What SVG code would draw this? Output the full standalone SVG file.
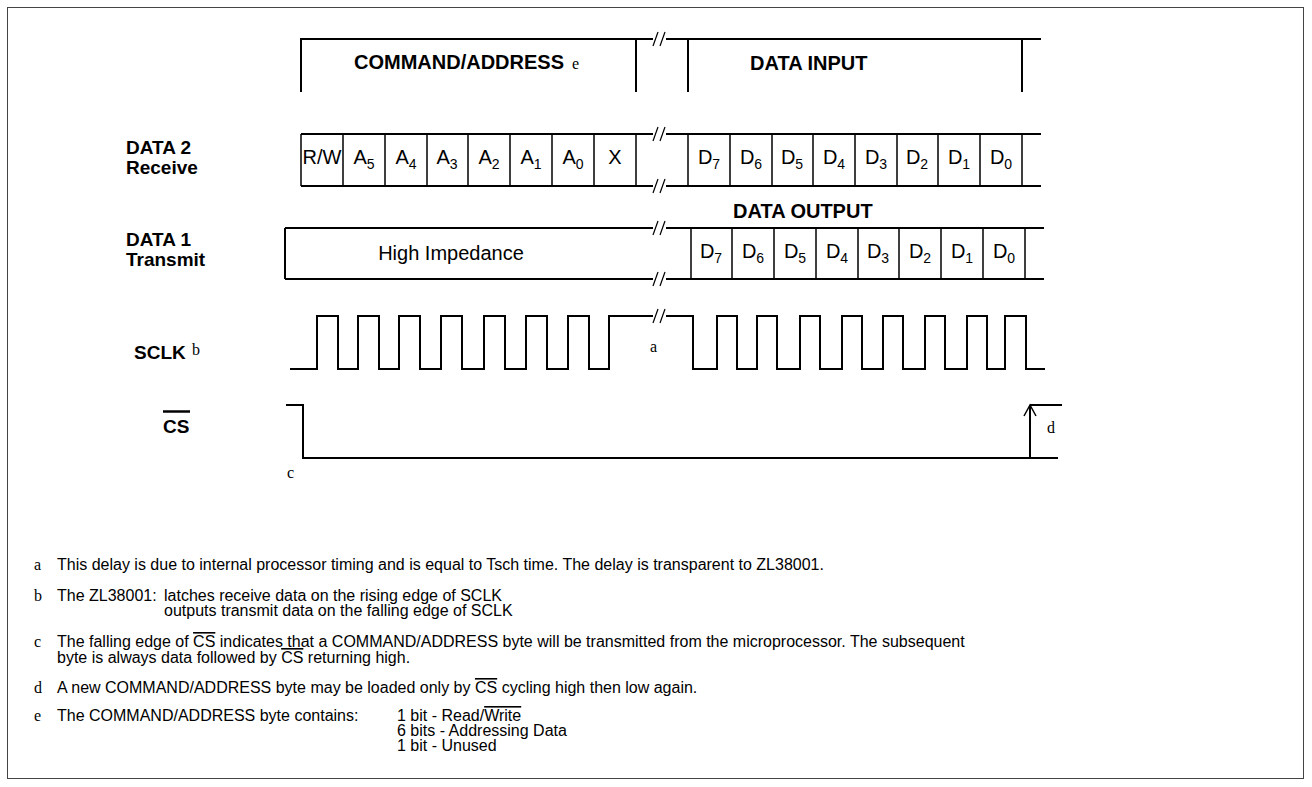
<svg xmlns="http://www.w3.org/2000/svg" width="1312" height="787" viewBox="0 0 1312 787">
<style>
.w{fill:none;stroke:#000;stroke-width:2}
.c{fill:none;stroke:#000;stroke-width:1.5}
.lb{font-family:"Liberation Sans",Arial,sans-serif;font-weight:bold;font-size:20px;fill:#000}
.ll{font-family:"Liberation Sans",Arial,sans-serif;font-weight:bold;font-size:19px;fill:#000}
.lr{font-family:"Liberation Sans",Arial,sans-serif;font-size:20px;fill:#000;text-anchor:middle}
.n{font-family:"Liberation Sans",Arial,sans-serif;font-size:16px;fill:#000}
.s{font-family:"Liberation Serif","Times New Roman",serif;font-size:16px;fill:#000}
.sub{font-size:14px}
.ov{text-decoration:overline}
</style>
<defs>
<g id="brk" fill="none" stroke="#000" stroke-width="1.2">
<line x1="-7" y1="7" x2="-2" y2="-7"/><line x1="0" y1="7" x2="5" y2="-7"/>
</g>
</defs>
<rect x="7.5" y="7.5" width="1296" height="771" fill="#fff" stroke="#444" stroke-width="1"/>

<g id="bracket">
<path class="w" d="M301,92 V39 H653 M666,39 H1041 M636,39 V92 M688,39 V92 M1022,39 V92"/>
<use href="#brk" x="660" y="39"/>
<text class="lb" x="354" y="69">COMMAND/ADDRESS</text>
<text class="s" x="572" y="69">e</text>
<text class="lb" x="750" y="70">DATA INPUT</text>
</g>

<g id="data2">
<text class="ll" x="126" y="154">DATA 2</text>
<text class="ll" x="126" y="174">Receive</text>
<path class="w" d="M301,134 H653 M666,134 H1041 M301,186 H653 M666,186 H1041"/>
<path class="c" d="M301,134V186 M343,134V186 M385,134V186 M427,134V186 M468,134V186 M510,134V186 M552,134V186 M594,134V186 M636,134V186 M688,134V186 M730,134V186 M772,134V186 M813,134V186 M855,134V186 M897,134V186 M938,134V186 M980,134V186 M1022,134V186"/>
<use href="#brk" x="660" y="134"/>
<use href="#brk" x="660" y="186"/>
<text class="lr" x="322" y="164">R/W</text>
<text class="lr" x="364" y="164">A<tspan class="sub" dy="5">5</tspan></text>
<text class="lr" x="406" y="164">A<tspan class="sub" dy="5">4</tspan></text>
<text class="lr" x="447" y="164">A<tspan class="sub" dy="5">3</tspan></text>
<text class="lr" x="489" y="164">A<tspan class="sub" dy="5">2</tspan></text>
<text class="lr" x="531" y="164">A<tspan class="sub" dy="5">1</tspan></text>
<text class="lr" x="573" y="164">A<tspan class="sub" dy="5">0</tspan></text>
<text class="lr" x="615" y="164">X</text>
<text class="lr" x="709" y="164">D<tspan class="sub" dy="5">7</tspan></text>
<text class="lr" x="751" y="164">D<tspan class="sub" dy="5">6</tspan></text>
<text class="lr" x="792" y="164">D<tspan class="sub" dy="5">5</tspan></text>
<text class="lr" x="834" y="164">D<tspan class="sub" dy="5">4</tspan></text>
<text class="lr" x="876" y="164">D<tspan class="sub" dy="5">3</tspan></text>
<text class="lr" x="917" y="164">D<tspan class="sub" dy="5">2</tspan></text>
<text class="lr" x="959" y="164">D<tspan class="sub" dy="5">1</tspan></text>
<text class="lr" x="1001" y="164">D<tspan class="sub" dy="5">0</tspan></text>
</g>

<g id="data1">
<text class="lb" x="733" y="218">DATA OUTPUT</text>
<text class="ll" x="126" y="246">DATA 1</text>
<text class="ll" x="126" y="266">Transmit</text>
<path class="w" d="M285,228 H653 M666,228 H1044 M285,279 H653 M666,279 H1044 M285,228 V279"/>
<path class="c" d="M691,228V279 M732,228V279 M774,228V279 M816,228V279 M858,228V279 M899,228V279 M941,228V279 M983,228V279 M1025,228V279"/>
<use href="#brk" x="660" y="228"/>
<use href="#brk" x="660" y="279"/>
<text class="lr" x="451" y="260">High Impedance</text>
<text class="lr" x="711" y="258">D<tspan class="sub" dy="5">7</tspan></text>
<text class="lr" x="753" y="258">D<tspan class="sub" dy="5">6</tspan></text>
<text class="lr" x="795" y="258">D<tspan class="sub" dy="5">5</tspan></text>
<text class="lr" x="837" y="258">D<tspan class="sub" dy="5">4</tspan></text>
<text class="lr" x="878" y="258">D<tspan class="sub" dy="5">3</tspan></text>
<text class="lr" x="920" y="258">D<tspan class="sub" dy="5">2</tspan></text>
<text class="lr" x="962" y="258">D<tspan class="sub" dy="5">1</tspan></text>
<text class="lr" x="1004" y="258">D<tspan class="sub" dy="5">0</tspan></text>
</g>

<g id="sclk">
<text class="ll" x="134" y="359">SCLK</text>
<text class="s" x="192" y="355">b</text>
<path class="w" d="M290,369 H317 V316 H338 V369 H358 V316 H379 V369 H399 V316 H420 V369 H441 V316 H462 V369 H484 V316 H505 V369 H526 V316 H547 V369 H568 V316 H589 V369 H609 V316 H653"/>
<use href="#brk" x="660" y="316"/>
<path class="w" d="M666,316 H693 V369 H717 V316 H737 V369 H757 V316 H777 V369 H800 V316 H820 V369 H842 V316 H862 V369 H883 V316 H903 V369 H925 V316 H945 V369 H967 V316 H987 V369 H1005 V316 H1026 V369 H1045"/>
<text class="s" x="650" y="352">a</text>
</g>

<g id="cs">
<text class="ll" x="163" y="433">CS</text>
<line x1="163" y1="411.5" x2="190" y2="411.5" stroke="#000" stroke-width="2.5"/>
<path class="w" d="M286,405 H303 V458 H1058 M1030,458 V406 M1030,405 H1062"/>
<path fill="none" stroke="#000" stroke-width="1.5" d="M1024,416 L1030,405 L1036,416"/>
<text class="s" x="287" y="478">c</text>
<text class="s" x="1047" y="433">d</text>
</g>

<g id="notes">
<text class="s" x="34" y="570">a</text>
<text class="n" x="57" y="570">This delay is due to internal processor timing and is equal to Tsch time. The delay is transparent to ZL38001.</text>
<text class="s" x="34" y="601">b</text>
<text class="n" x="57" y="601">The ZL38001:</text>
<text class="n" x="164" y="601">latches receive data on the rising edge of SCLK</text>
<text class="n" x="164" y="616">outputs transmit data on the falling edge of SCLK</text>
<text class="s" x="34" y="647">c</text>
<text class="n" x="57" y="647">The falling edge of <tspan class="ov">CS</tspan> indicates that a COMMAND/ADDRESS byte will be transmitted from the microprocessor. The subsequent</text>
<text class="n" x="57" y="663">byte is always data followed by <tspan class="ov">CS</tspan> returning high.</text>
<text class="s" x="34" y="693">d</text>
<text class="n" x="57" y="693">A new COMMAND/ADDRESS byte may be loaded only by <tspan class="ov">CS</tspan> cycling high then low again.</text>
<text class="s" x="34" y="721">e</text>
<text class="n" x="57" y="721">The COMMAND/ADDRESS byte contains:</text>
<text class="n" x="397" y="721">1 bit - Read/<tspan class="ov">Write</tspan></text>
<text class="n" x="397" y="736">6 bits - Addressing Data</text>
<text class="n" x="397" y="751">1 bit - Unused</text>
</g>
</svg>
